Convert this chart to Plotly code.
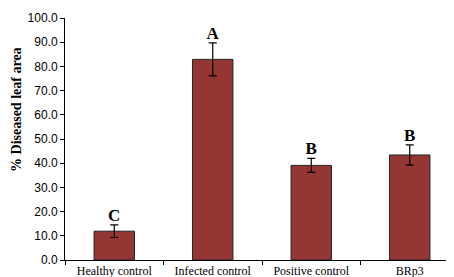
import plotly.graph_objects as go

categories = ["Healthy control", "Infected control", "Positive control", "BRp3"]
values = [11.9, 82.9, 39.1, 43.4]
errors = [2.6, 6.8, 2.9, 4.2]
letters = ["C", "A", "B", "B"]
y_ticks = [0, 10, 20, 30, 40, 50, 60, 70, 80, 90, 100]

fig = go.Figure()
fig.add_trace(go.Bar(
    x=categories, y=values,
    width=0.41,
    marker=dict(color="#943634", line=dict(color="#222222", width=1)),
    error_y=dict(type="data", array=errors, visible=True, color="black", thickness=1.2, width=4),
    showlegend=False,
))
fig.add_trace(go.Scatter(
    x=categories, y=[v + e for v, e in zip(values, errors)],
    mode="text", text=[f"<b>{t}</b>" for t in letters], textposition="top center",
    textfont=dict(family="Liberation Serif", size=17, color="black"),
    showlegend=False,
))
fig.update_layout(
    width=454, height=277,
    margin=dict(l=57, r=3, t=7, b=25),
    plot_bgcolor="white", paper_bgcolor="white",
    annotations=[dict(
        text="<b>% Diseased leaf area</b>", textangle=-90,
        xref="paper", yref="paper", x=0, xshift=-48, y=0.62,
        xanchor="center", yanchor="middle", showarrow=False,
        font=dict(family="Liberation Serif", size=14, color="black"),
    )],
)
fig.update_yaxes(
    range=[0, 100], tickvals=y_ticks, ticktext=[f"{t:.1f}" for t in y_ticks],
    showgrid=False, zeroline=False, showline=True, linecolor="black", linewidth=1,
    ticks="outside", ticklen=4, tickcolor="black",
    tickfont=dict(family="Liberation Sans", size=12, color="black"),
)
fig.update_xaxes(
    showgrid=False, showline=True, linecolor="black", linewidth=1,
    ticks="outside", tickson="boundaries", ticklen=4, tickcolor="black",
    tickfont=dict(family="Liberation Serif", size=12, color="black"),
)
fig.write_html("out.html")
